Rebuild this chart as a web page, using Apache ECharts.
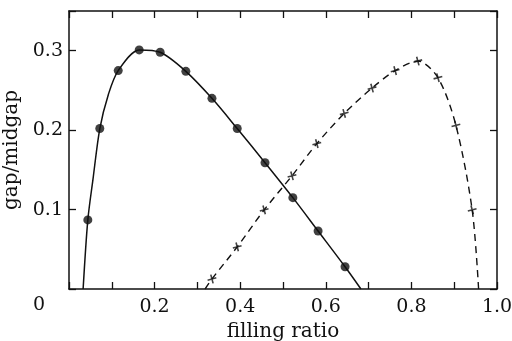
<!DOCTYPE html>
<html>
<head>
<meta charset="utf-8">
<script src="https://cdn.jsdelivr.net/npm/echarts@6/dist/echarts.min.js"></script>
<style>
  html, body { margin: 0; padding: 0; background: #fff; }
  #chart { width: 512px; height: 341px; }
</style>
</head>
<body>
<div id="chart"></div>
<script>
// solid curve (filled dots)
const solidCurve = [
  [0.033, 0], [0.044, 0.087], [0.056, 0.138], [0.072, 0.202], [0.092, 0.245],
  [0.115, 0.275], [0.164, 0.301], [0.213, 0.298], [0.273, 0.274], [0.334, 0.240],
  [0.393, 0.202], [0.458, 0.159], [0.523, 0.115], [0.582, 0.073], [0.645, 0.028],
  [0.682, 0]
]
const dots = [
  [0.044, 0.087], [0.072, 0.202], [0.115, 0.275], [0.164, 0.301], [0.213, 0.298],
  [0.273, 0.274], [0.334, 0.240], [0.393, 0.202], [0.458, 0.159], [0.523, 0.115],
  [0.582, 0.073], [0.645, 0.028]
]
// dashed curve (crosses)
const dashedCurve = [
  [0.318, 0], [0.334, 0.0126], [0.393, 0.053], [0.456, 0.0996], [0.521, 0.1425],
  [0.579, 0.183], [0.643, 0.221], [0.708, 0.253], [0.762, 0.275], [0.815, 0.287],
  [0.862, 0.266], [0.904, 0.206], [0.942, 0.0996], [0.957, 0]
]
const crosses = [
  [0.334, 0.0126], [0.393, 0.053], [0.456, 0.0996], [0.521, 0.1425], [0.579, 0.183],
  [0.643, 0.221], [0.708, 0.253], [0.762, 0.275], [0.815, 0.287], [0.862, 0.266],
  [0.904, 0.206], [0.942, 0.0996]
]
const xLabels = [0.2, 0.4, 0.6, 0.8, 1.0]
const yLabels = [0.1, 0.2, 0.3]

const font = 'DejaVu Serif'
const axisLine = { show: true, onZero: false, lineStyle: { color: '#111', width: 1.5 } }
const tick = { show: true, inside: true, length: 7, lineStyle: { color: '#111', width: 1.3 } }
const pick = list => v => list.some(t => Math.abs(t - v) < 1e-6) ? v.toFixed(1) : ''

const chart = echarts.init(document.getElementById('chart'))
chart.setOption({
  animation: false,
  grid: { left: 69, right: 15, top: 11, bottom: 52, outerBoundsMode: 'none', containLabel: false },
  xAxis: [
    {
      type: 'value', min: 0, max: 1, interval: 0.1,
      name: 'filling ratio', nameLocation: 'middle', nameGap: 31,
      nameTextStyle: { fontFamily: font, fontSize: 20, color: '#111' },
      axisLine: axisLine, axisTick: tick, splitLine: { show: false },
      axisLabel: { margin: 9, fontFamily: font, fontSize: 19, color: '#111', formatter: pick(xLabels) }
    },
    {
      type: 'value', position: 'top', min: 0, max: 1, interval: 0.1,
      axisLine: axisLine, axisTick: tick, axisLabel: { show: false }, splitLine: { show: false }
    }
  ],
  yAxis: [
    {
      type: 'value', min: 0, max: 0.35, interval: 0.1,
      name: 'gap/midgap', nameLocation: 'middle', nameGap: 44,
      nameTextStyle: { fontFamily: font, fontSize: 20, color: '#111' },
      axisLine: axisLine, axisTick: tick, splitLine: { show: false },
      axisLabel: { margin: 6, fontFamily: font, fontSize: 19, color: '#111', formatter: pick(yLabels) }
    },
    {
      type: 'value', position: 'right', min: 0, max: 0.35, interval: 0.1,
      axisLine: axisLine, axisTick: tick, axisLabel: { show: false }, splitLine: { show: false }
    }
  ],
  graphic: [
    { type: 'text', left: 33, top: 296, style: { text: '0', font: '19px "DejaVu Serif"', fill: '#111' } }
  ],
  series: [
    {
      type: 'line', data: solidCurve, smooth: 0.3, symbol: 'none',
      lineStyle: { color: '#111', width: 1.5 }
    },
    {
      type: 'scatter', data: dots, symbol: 'circle', symbolSize: 9,
      itemStyle: { color: '#111' }
    },
    {
      type: 'line', data: dashedCurve, smooth: 0.3, symbol: 'none',
      lineStyle: { color: '#111', width: 1.4, type: [7, 5] }
    },
    {
      type: 'scatter', data: crosses, symbol: 'path://M0,5L10,5M5,0L5,10', symbolSize: 9, symbolRotate: 15,
      itemStyle: { color: 'none', borderColor: '#111', borderWidth: 1.6 }
    }
  ]
})
</script>
</body>
</html>
